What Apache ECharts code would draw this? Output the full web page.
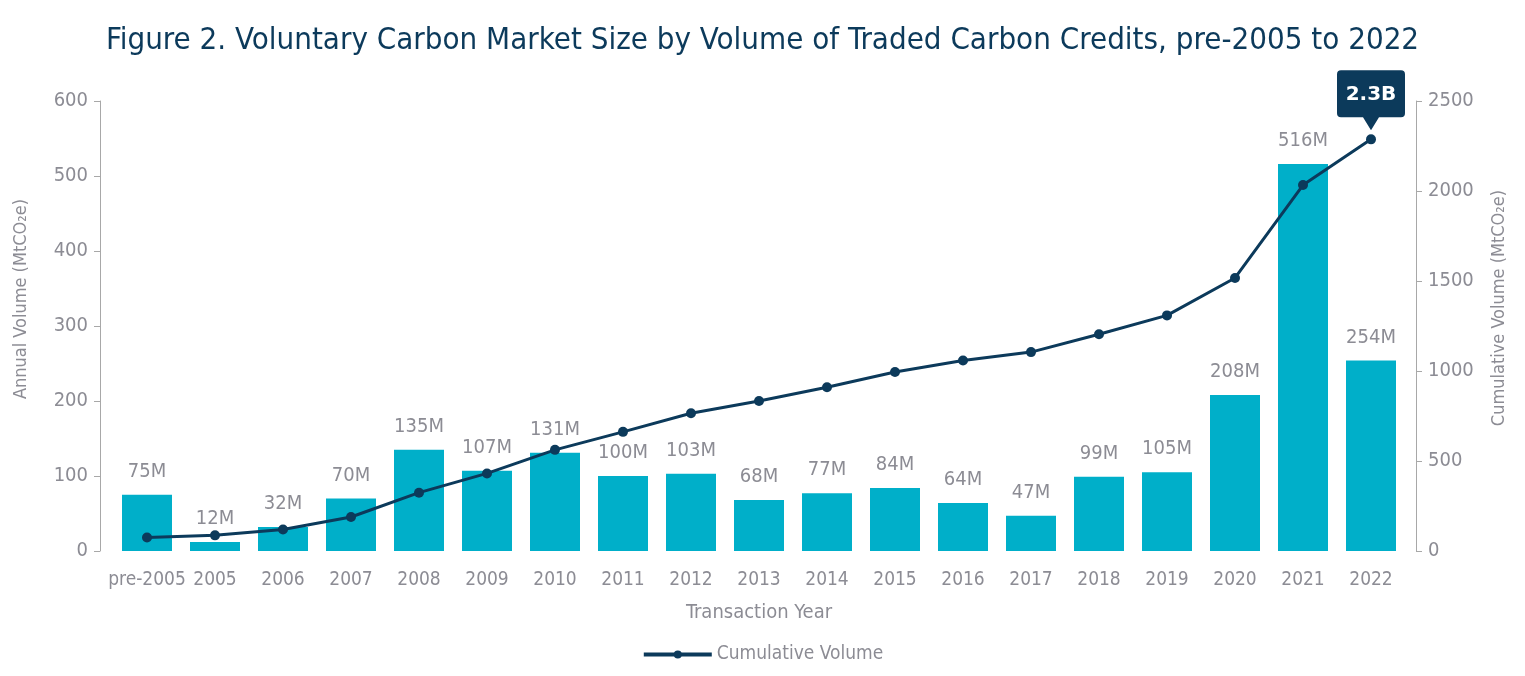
<!DOCTYPE html>
<html><head><meta charset="utf-8">
<script src="https://cdn.jsdelivr.net/npm/echarts@6/dist/echarts.min.js"></script>
<style>html,body{margin:0;padding:0;background:#fff}#c{width:1525px;height:676px}</style>
</head><body><div id="c"></div>
<script>
const categories = ['pre-2005','2005','2006','2007','2008','2009','2010','2011','2012','2013','2014','2015','2016','2017','2018','2019','2020','2021','2022'];
const annualVolume = [75,12,32,70,135,107,131,100,103,68,77,84,64,47,99,105,208,516,254];
const cumulativeVolume = [75,87,119,189,324,431,562,662,765,833,910,994,1058,1105,1204,1309,1517,2033,2287];
const calloutText = '2.3B';

const FONT = '"DejaVu Sans Condensed","Liberation Sans Narrow","Roboto",sans-serif';
const GRAY = '#8c8c94';
const NAVY = '#0c3a5b';
const TEAL = '#00afc9';

const chart = echarts.init(document.getElementById('c'));
chart.setOption({
  animation: false,
  textStyle: { fontFamily: FONT },
  title: {
    text: 'Figure 2. Voluntary Carbon Market Size by Volume of Traded Carbon Credits, pre-2005 to 2022',
    left: 'center', top: 20,
    textStyle: { fontFamily: FONT, fontSize: 31, fontWeight: 'normal', color: NAVY }
  },
  legend: {
    bottom: 7, left: 'center',
    data: ['Cumulative Volume'],
    itemWidth: 68, itemHeight: 10, itemGap: 10,
    lineStyle: { width: 4 },
    textStyle: { fontFamily: FONT, fontSize: 19, color: GRAY }
  },
  grid: { left: 113, right: 120, top: 101, bottom: 125 },
  xAxis: {
    type: 'category', data: categories,
    axisLine: { show: false }, axisTick: { show: false },
    axisLabel: { color: GRAY, fontSize: 19, margin: 20, fontFamily: FONT, interval: 0 },
    name: 'Transaction Year', nameLocation: 'middle', nameGap: 52,
    nameTextStyle: { color: GRAY, fontSize: 20, fontFamily: FONT }
  },
  yAxis: [{
    type: 'value', min: 0, max: 600, interval: 100, position: 'left', offset: 13,
    axisLine: { show: true, lineStyle: { color: '#a8a8a8' } },
    axisTick: { show: true, length: 6, lineStyle: { color: '#a8a8a8' } },
    splitLine: { show: false },
    axisLabel: { color: GRAY, fontSize: 20, margin: 12, fontFamily: FONT },
    name: 'Annual Volume (MtCO\u2082e)', nameLocation: 'middle', nameGap: 70, nameRotate: 90,
    nameTextStyle: { color: GRAY, fontSize: 18, fontFamily: FONT, padding: [0, 0, 0, 54] }
  }, {
    type: 'value', min: 0, max: 2500, interval: 500, position: 'right', offset: 11,
    axisLine: { show: true, lineStyle: { color: '#a8a8a8' } },
    axisTick: { show: true, length: 6, lineStyle: { color: '#a8a8a8' } },
    splitLine: { show: false },
    axisLabel: { color: GRAY, fontSize: 20, margin: 12, fontFamily: FONT, formatter: v => String(v) },
    name: 'Cumulative Volume (MtCO\u2082e)', nameLocation: 'middle', nameGap: 74, nameRotate: 90,
    nameTextStyle: { color: GRAY, fontSize: 18, fontFamily: FONT, padding: [0, 0, 0, 36] }
  }],
  series: [{
    name: 'Annual Volume', type: 'bar', data: annualVolume, barWidth: 50,
    itemStyle: { color: TEAL },
    label: { show: true, position: 'top', distance: 13, formatter: p => p.value + 'M',
      color: GRAY, fontSize: 20, fontFamily: FONT }
  }, {
    name: 'Cumulative Volume', type: 'line', yAxisIndex: 1, data: cumulativeVolume,
    symbol: 'circle', symbolSize: 10,
    lineStyle: { color: NAVY, width: 3 }, itemStyle: { color: NAVY },
    z: 5,
    markPoint: {
      data: [{ coord: [categories.length - 1, cumulativeVolume[cumulativeVolume.length - 1]], value: calloutText }],
      symbol: 'path://M4,0 H64 Q68,0 68,4 V43 Q68,47 64,47 H42 L34,60 L26,47 H4 Q0,47 0,43 V4 Q0,0 4,0 Z',
      symbolSize: [68, 60], symbolKeepAspect: false, symbolOffset: [0, -39],
      itemStyle: { color: NAVY },
      label: { show: true, position: 'inside', formatter: calloutText, color: '#fff', fontWeight: 'bold', fontSize: 20,
        fontFamily: '"DejaVu Sans","Roboto",sans-serif', offset: [0, -6] }
    }
  }]
});
</script></body></html>
